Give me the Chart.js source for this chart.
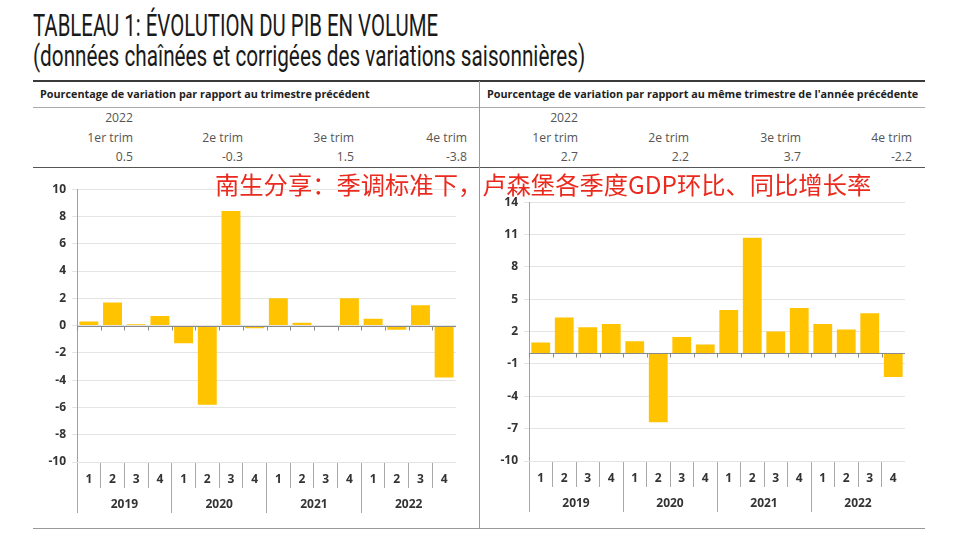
<!doctype html>
<html lang="fr">
  <head>
    <meta charset="utf-8">
    <title>Évolution du PIB en volume</title>
    <style>
      body { margin: 0; background: #fff; }
      #page { position: relative; width: 960px; height: 550px; overflow: hidden; font-family: "Open Sans", sans-serif; }
      .title { position: absolute; left: 33px; white-space: nowrap; font-family: Roboto, sans-serif; color: #1a1a1a; transform-origin: left top; }
      #t1 { top: 9px; font-size: 32px; line-height: 32px; }
      #t2 { top: 41px; font-size: 30px; line-height: 30px; }
      .hline { position: absolute; height: 0; }
      .vline { position: absolute; width: 0; border-left: 1px solid #9a9a9a; }
      .head { position: absolute; top: 86px; font-size: 10.8px; font-weight: 700; color: #222; white-space: nowrap; }
      .cell { position: absolute; width: 90px; text-align: right; font-size: 12.2px; color: #555; line-height: 14px; }
      #note { position: absolute; left: 215px; top: 172px; font-family: "Noto Sans CJK SC", sans-serif; font-size: 24.3px; line-height: 24px; color: #ea2a1e; white-space: nowrap; z-index: 5; }
      .box { position: absolute; }
    </style>
  </head>
  <body>
    <div id="page">
      <div class="title" id="t1">TABLEAU 1: ÉVOLUTION DU PIB EN VOLUME</div>
      <div class="title" id="t2">(données chaînées et corrigées des variations saisonnières)</div>

      <div class="hline" style="left:33px; width:892px; top:80px; border-top:2px solid #3a3a3a;"></div>
      <div class="hline" style="left:33px; width:892px; top:107px; border-top:1px solid #aaa;"></div>
      <div class="hline" style="left:33px; width:892px; top:167px; border-top:1px solid #555;"></div>
      <div class="hline" style="left:33px; width:892px; top:528px; border-top:1px solid #999;"></div>
      <div class="vline" style="left:479px; top:81px; height:448px;"></div>

      <div class="head" style="left:40px;">Pourcentage de variation par rapport au trimestre précédent</div>
      <div class="head" style="left:487px;">Pourcentage de variation par rapport au même trimestre de l'année précédente</div>

      <div id="table"></div>
      <div id="note">南生分享：季调标准下，卢森堡各季度GDP环比、同比增长率</div>

      <div class="box" style="left:30px; top:176px; width:426px; height:337px;"><canvas id="qoqChart"></canvas></div>
      <div class="box" style="left:480px; top:189px; width:425px; height:323px;"><canvas id="yoyChart"></canvas></div>
    </div>

    <script src="https://cdn.jsdelivr.net/npm/chart.js"></script>
    <script>
        // table on top
        var tableYear = '2022';
        var tableQuarters = ['1er trim', '2e trim', '3e trim', '4e trim'];
        var qoq2022 = [0.5, -0.3, 1.5, -3.8];
        var yoy2022 = [2.7, 2.2, 3.7, -2.2];

        // bar charts
        var quarters = ['1', '2', '3', '4', '1', '2', '3', '4', '1', '2', '3', '4', '1', '2', '3', '4'];
        var years = ['2019', '2020', '2021', '2022'];
        var qoqValues = [0.3, 1.7, 0.1, 0.7, -1.3, -5.8, 8.4, -0.2, 2.0, 0.2, -0.1, 2.0, 0.5, -0.3, 1.5, -3.8];
        var yoyValues = [1.0, 3.3, 2.4, 2.7, 1.1, -6.4, 1.5, 0.8, 4.0, 10.7, 2.0, 4.2, 2.7, 2.2, 3.7, -2.2];

        var barColor = '#ffc300';

        function fitWidth(id, target) {
            var el = document.getElementById(id);
            el.style.transform = 'scaleX(' + (target / el.offsetWidth) + ')';
        }
        fitWidth('t1', 405);
        fitWidth('t2', 552);

        // build the little table
        var table = document.getElementById('table');
        function addCell(text, right, top) {
            var d = document.createElement('div');
            d.className = 'cell';
            d.textContent = text;
            d.style.left = (right - 90) + 'px';
            d.style.top = top + 'px';
            table.appendChild(d);
        }
        var leftCols = [133, 243, 354, 467];
        var rightCols = [578, 689, 801, 912];
        addCell(tableYear, leftCols[0], 111);
        addCell(tableYear, rightCols[0], 111);
        for (var i = 0; i < 4; i++) {
            addCell(tableQuarters[i], leftCols[i], 131);
            addCell(tableQuarters[i], rightCols[i], 131);
            addCell(qoq2022[i].toFixed(1), leftCols[i], 150);
            addCell(yoy2022[i].toFixed(1), rightCols[i], 150);
        }

        // zero line with small marks at each quarter boundary
        var zeroLine = {
            id: 'zeroLine',
            afterDatasetsDraw: function(chart) {
                var x = chart.scales.x, y = chart.scales.y, c = chart.ctx;
                var y0 = Math.round(y.getPixelForValue(0)) + 0.5;
                c.save();
                c.strokeStyle = '#8a8a8a';
                c.lineWidth = 1;
                c.beginPath();
                c.moveTo(chart.chartArea.left, y0);
                c.lineTo(chart.chartArea.right, y0);
                for (var k = 0; k <= quarters.length; k++) {
                    var px = Math.round(x.getPixelForValue(k - 0.5)) + 0.5;
                    c.moveTo(px, y0);
                    c.lineTo(px, y0 + 4);
                }
                c.stroke();
                c.restore();
            }
        };

        function makeChart(id, values, yMin, yMax, step, yWidth) {
            var tickFont = { family: 'Open Sans', size: 12, weight: 'bold' };
            return new Chart(document.getElementById(id), {
                type: 'bar',
                data: {
                    labels: quarters,
                    datasets: [{
                        data: values,
                        backgroundColor: barColor,
                        borderWidth: 0,
                        barPercentage: 0.8,
                        categoryPercentage: 1.0
                    }]
                },
                options: {
                    responsive: true,
                    maintainAspectRatio: false,
                    animation: false,
                    plugins: { legend: { display: false }, tooltip: { enabled: false } },
                    layout: { padding: 0 },
                    scales: {
                        y: {
                            min: yMin,
                            max: yMax,
                            ticks: { stepSize: step, color: '#333', font: tickFont, padding: 6 },
                            grid: { color: '#e4e4e4', tickLength: 5 },
                            border: { color: '#a0a0a0' },
                            afterFit: function(s) { s.width = yWidth; }
                        },
                        x: {
                            offset: true,
                            ticks: { color: '#333', font: tickFont, padding: -16, maxRotation: 0, autoSkip: false },
                            grid: { offset: true, drawOnChartArea: false, tickLength: 26, color: '#a8a8a8' },
                            border: { color: '#e4e4e4' },
                            afterFit: function(s) { s.height = 26; }
                        },
                        years: {
                            type: 'category',
                            position: 'bottom',
                            labels: years,
                            offset: true,
                            ticks: { color: '#333', font: tickFont, padding: -16, maxRotation: 0 },
                            grid: { offset: true, drawOnChartArea: false, tickLength: 25, color: '#a8a8a8' },
                            border: { display: false },
                            afterFit: function(s) { s.height = 25; }
                        }
                    }
                },
                plugins: [zeroLine]
            });
        }

        makeChart('qoqChart', qoqValues, -10, 10, 2, 47);
        makeChart('yoyChart', yoyValues, -10, 14, 3, 49);
    </script>
  </body>
</html>
